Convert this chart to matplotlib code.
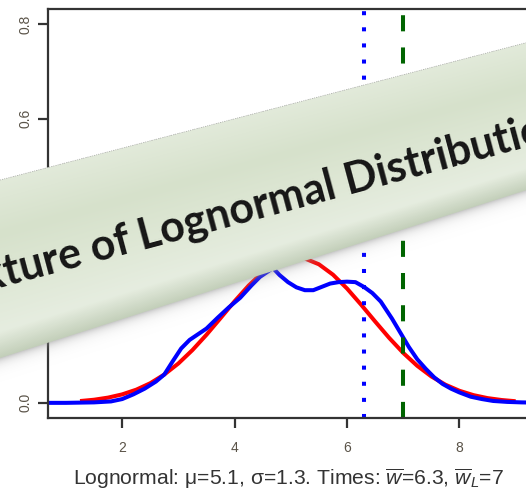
import matplotlib
matplotlib.use('Agg')
import matplotlib.pyplot as plt
from matplotlib.colors import LinearSegmentedColormap
import numpy as np

plt.rcParams['font.family'] = ['Liberation Sans', 'DejaVu Sans']
plt.rcParams['mathtext.fontset'] = 'custom'
plt.rcParams['mathtext.rm'] = 'Liberation Sans'
plt.rcParams['mathtext.it'] = 'Liberation Sans:italic'

# fitted lognormal density, on the log scale
fit_x = [1.25, 1.5, 1.75, 2.0, 2.25, 2.5, 2.75, 3.0, 3.25, 3.5, 3.75, 4.0, 4.25, 4.5,
         4.75, 5.0, 5.25, 5.5, 5.75, 6.0, 6.25, 6.5, 6.75, 7.0, 7.25, 7.5, 7.75, 8.0,
         8.25, 8.5, 8.75, 9.0]
fit_y = [0.0038, 0.0066, 0.0111, 0.0179, 0.0278, 0.0415, 0.0599, 0.0832, 0.1115, 0.1439,
         0.1790, 0.2146, 0.2478, 0.2759, 0.2960, 0.3060, 0.3049, 0.2927, 0.2708, 0.2415,
         0.2075, 0.1719, 0.1372, 0.1055, 0.0782, 0.0558, 0.0384, 0.0255, 0.0163, 0.0100,
         0.0060, 0.0034]

# kernel density of the observed log times
kde_x = [0.5, 1.0, 1.5, 1.8, 2.0, 2.2, 2.4, 2.6, 2.75, 2.9, 3.05, 3.2, 3.35, 3.5, 3.7,
         3.9, 4.1, 4.3, 4.45, 4.6, 4.68, 4.8, 4.95, 5.1, 5.25, 5.4, 5.55, 5.7, 5.85, 6.0,
         6.15, 6.3, 6.45, 6.6, 6.8, 6.95, 7.1, 7.25, 7.4, 7.55, 7.7, 7.85, 8.0, 8.2, 8.4,
         8.6, 8.85, 9.1, 9.5, 10.0]
kde_y = [0.0, 0.0, 0.001, 0.003, 0.008, 0.018, 0.030, 0.045, 0.060, 0.088, 0.115, 0.133,
         0.145, 0.157, 0.180, 0.202, 0.222, 0.248, 0.266, 0.278, 0.285, 0.270, 0.255,
         0.244, 0.238, 0.238, 0.245, 0.252, 0.255, 0.256, 0.255, 0.245, 0.232, 0.214,
         0.178, 0.148, 0.118, 0.092, 0.072, 0.054, 0.040, 0.030, 0.022, 0.013, 0.008,
         0.004, 0.002, 0.001, 0.0, 0.0]

mu, sigma = 5.1, 1.3
w_mean = 6.3
w_lmean = 7

x_ticks = [2, 4, 6, 8]
y_ticks = [0.0, 0.2, 0.4, 0.6, 0.8]

W, H = 526, 491
fig = plt.figure(figsize=(W / 100, H / 100), dpi=100)
ax = fig.add_axes([48 / W, 73 / H, 480 / W, 409 / H])

ax.plot(fit_x, fit_y, color='#ff0000', lw=2.9, solid_capstyle='butt')
ax.plot(kde_x, kde_y, color='#0000ff', lw=2.9, solid_capstyle='butt')
ax.axvline(w_mean, color='#0000ff', lw=2.9, dashes=(1, 3), dash_capstyle='butt')
ax.axvline(w_lmean, color='#006400', lw=2.9, dashes=(4, 4), dash_capstyle='butt')

ax.set_xlim(0.68, 9.22)
ax.set_ylim(-0.032, 0.832)
ax.set_xticks(x_ticks)
ax.set_yticks(y_ticks)
ax.set_yticklabels(['%.1f' % v for v in y_ticks])
for s in ax.spines.values():
    s.set_linewidth(1.6)
    s.set_color('#333333')
ax.tick_params(length=7.2, width=1.6, color='#333333', labelsize=10, labelcolor='#5a5348')
ax.tick_params(axis='x', pad=9)
ax.tick_params(axis='y', pad=4, labelrotation=90)
plt.setp(ax.get_yticklabels(), va='center')

ax.set_xlabel('Lognormal: \u03bc=%.1f, \u03c3=%.1f. Times: $\\overline{w}$=%.1f, $\\overline{w}_L$=%g'
              % (mu, sigma, w_mean, w_lmean), fontsize=15.2, color='#333333', labelpad=9)

# title ribbon laid across the plot
ov = fig.add_axes([0, 0, 1, 1], zorder=5)
ov.set_xlim(0, W)
ov.set_ylim(H, 0)
ov.axis('off')
ov.patch.set_alpha(0)

px, py = np.meshgrid(np.arange(W) + 0.5, np.arange(H) + 0.5)
top = 180 - 0.261 * px
bot = 358 - 0.319 * px
t = (py - top) / (bot - top)
ribbon = LinearSegmentedColormap.from_list(
    'ribbon', [(0.0, '#e2eada'), (0.3, '#d6e1cb'), (0.6, '#dfe8d6'),
               (0.85, '#e6ede0'), (1.0, '#c3cfb9')])
rib_rgb = ribbon(np.clip(t, 0, 1))[..., :3]
rib_a = np.clip(py - top + 0.5, 0, 1) * np.clip(bot - py + 0.5, 0, 1)
d = np.clip(py - bot, 0, None)
sh_a = np.where(py > top, 0.5 * np.exp(-d / 5.0), 0.0)
sh_rgb = np.full_like(rib_rgb, 0.55)
out_a = rib_a + sh_a * (1 - rib_a)
out_rgb = (rib_rgb * rib_a[..., None] + sh_rgb * (sh_a * (1 - rib_a))[..., None]) / np.maximum(out_a, 1e-6)[..., None]
img = np.dstack([out_rgb, out_a])
ov.imshow(img, extent=(0, W, H, 0), interpolation='bilinear', aspect='auto')
ov.plot([0, W], [180, 180 - 0.261 * W], color='#aaaaaa', lw=0.6, ls=':')

ang = 15
ox, oy = 142, 250
ov.text(ox, oy, 'Lognormal Distributions', rotation=ang, rotation_mode='anchor',
        ha='left', va='baseline', fontsize=31, fontweight='bold', family='Lato', color='#161616')
ov.text(ox - 9 * np.cos(np.radians(ang)), oy + 9 * np.sin(np.radians(ang)), 'Mixture of',
        rotation=ang, rotation_mode='anchor', ha='right', va='baseline', fontsize=31,
        fontweight='bold', family='Lato', color='#161616')
ov.set_xlim(0, W)
ov.set_ylim(H, 0)

fig.savefig('out.png', dpi=100)
